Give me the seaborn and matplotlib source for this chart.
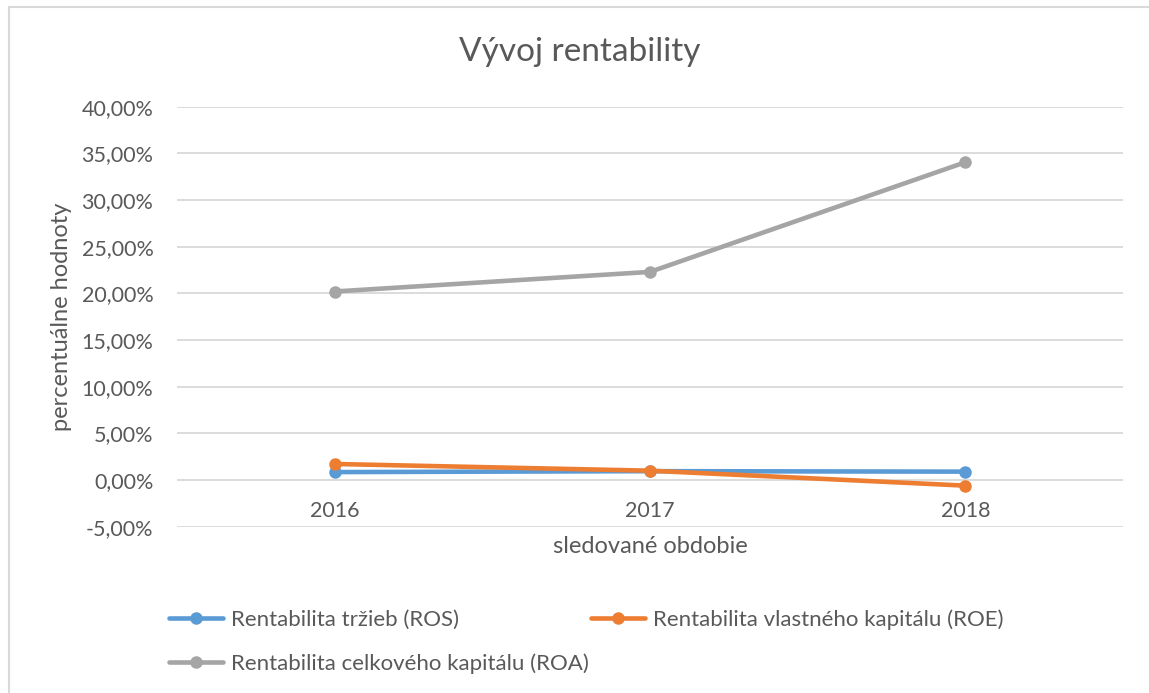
import pandas as pd
import matplotlib
matplotlib.use('Agg')
import matplotlib.pyplot as plt
import seaborn as sns
from matplotlib.patches import Rectangle
from matplotlib.ticker import FuncFormatter, MultipleLocator

# Data (values in %)
years = ['2016', '2017', '2018']
ros = [0.85, 0.95, 0.90]
roe = [1.72, 1.00, -0.60]
roa = [20.20, 22.30, 34.05]
series_names = ['Rentabilita tržieb (ROS)',
                'Rentabilita vlastného kapitálu (ROE)',
                'Rentabilita celkového kapitálu (ROA)']
colors = ['#5B9BD5', '#ED7D31', '#A5A5A5']

df = pd.DataFrame({
    'rok': years * 3,
    'hodnota': ros + roe + roa,
    'ukazovatel': [series_names[0]] * 3 + [series_names[1]] * 3 + [series_names[2]] * 3,
})

sns.set_style('white')
plt.rcParams['font.family'] = ['Lato', 'DejaVu Sans']
txt = '#595959'

fig = plt.figure(figsize=(11.49, 6.93), dpi=100)
ax = fig.add_axes([177 / 1149, 1 - 526.7 / 693, 946 / 1149, 420 / 693])

sns.lineplot(data=df, x='rok', y='hodnota', hue='ukazovatel', palette=colors,
             marker='o', markersize=9, markeredgewidth=0, linewidth=3.3,
             sort=False, ax=ax)

ax.set_xlim(-0.5, 2.5)
ax.set_ylim(-5, 40)
ax.yaxis.set_major_locator(MultipleLocator(5))
ax.yaxis.set_major_formatter(FuncFormatter(lambda v, p: f'{v:.2f}%'.replace('.', ',')))
ax.grid(axis='y', color='#D9D9D9', linewidth=1.3)
ax.set_axisbelow(True)
for s in ax.spines.values():
    s.set_visible(False)
# category labels sit at the 0 line like in Excel
ax.spines['bottom'].set_position(('data', 0))
ax.tick_params(axis='both', length=0, labelsize=15.5, labelcolor=txt)
ax.tick_params(axis='x', pad=15)
ax.tick_params(axis='y', pad=17)

ax.set_xlabel('sledované obdobie', fontsize=17, color=txt)
ax.xaxis.set_label_coords(0.5, -0.022)
ax.set_ylabel('percentuálne hodnoty', fontsize=17, color=txt)
ax.yaxis.set_label_coords(-0.111, 0.5)

fig.text(580 / 1149, 1 - 52 / 693, 'Vývoj rentability', fontsize=24, color=txt,
         ha='center', va='center')

handles, labels = ax.get_legend_handles_labels()
ax.get_legend().remove()
order = [0, 2, 1]
fig.legend([handles[i] for i in order], [labels[i] for i in order],
           ncol=2, loc='upper left', bbox_to_anchor=(149 / 1149, 1 - 589 / 693),
           frameon=False, fontsize=16, labelcolor=txt, handlelength=2.43,
           handletextpad=0.35, labelspacing=1.05, columnspacing=0.1)

# chart area border
fig.patches.append(Rectangle((9 / 1149, -0.1), 1.1, 1 - 7 / 693 + 0.1,
                             transform=fig.transFigure, fill=False,
                             edgecolor='#D9D9D9', linewidth=1.5))

fig.savefig('out.png', dpi=100)
